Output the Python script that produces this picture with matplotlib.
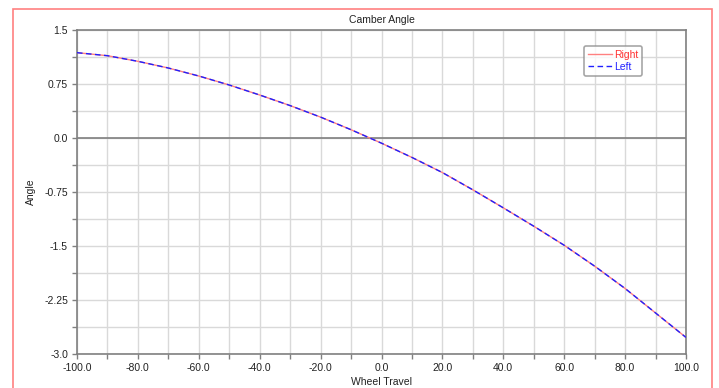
import matplotlib.pyplot as plt
from matplotlib.patches import Rectangle
from matplotlib.ticker import MultipleLocator, FormatStrFormatter

plt.rcParams["font.family"] = ["Liberation Sans", "DejaVu Sans"]

# Wheel travel vs camber angle
wheel_travel = [-100, -90, -80, -70, -60, -50, -40, -30, -20, -10,
                0, 10, 20, 30, 40, 50, 60, 70, 80, 90, 100]
camber_right = [1.185, 1.143, 1.065, 0.972, 0.861, 0.736, 0.597, 0.45, 0.29, 0.115,
                -0.072, -0.27, -0.48, -0.72, -0.97, -1.225, -1.49, -1.78, -2.09, -2.43, -2.77]
camber_left = list(camber_right)

y_tick_labels = ["-3.0", "-2.25", "-1.5", "-0.75", "0.0", "0.75", "1.5"]

fig = plt.figure(figsize=(7.19, 3.88), dpi=100)

# pink frame around the plot area
fig.patches.append(Rectangle((13 / 719, -0.05), 699 / 719, 1 - 9 / 388 + 0.05,
                             transform=fig.transFigure, fill=False,
                             edgecolor="#ff8080", linewidth=1.2))

ax = fig.add_axes([77 / 719, 1 - 354 / 388, 609 / 719, 324 / 388])

ax.plot(wheel_travel, camber_right, color="#ff8080", linewidth=1.0, label="Right", zorder=3)
ax.plot(wheel_travel, camber_left, color="#2020ff", linewidth=1.0,
        linestyle=(0, (4, 2.5)), label="Left", zorder=4)

ax.axhline(0, color="#808080", linewidth=1.2, zorder=2)

ax.set_xlim(-100, 100)
ax.set_ylim(-3.0, 1.5)

ax.xaxis.set_major_locator(MultipleLocator(20))
ax.xaxis.set_minor_locator(MultipleLocator(10))
ax.xaxis.set_major_formatter(FormatStrFormatter("%.1f"))
ax.set_yticks([float(t) for t in y_tick_labels], y_tick_labels)
ax.yaxis.set_minor_locator(MultipleLocator(0.375))

ax.grid(True, which="both", color="#d9d9d9", linewidth=1.0, zorder=0)
ax.set_axisbelow(True)

ax.tick_params(which="both", direction="out", colors="#808080", labelcolor="#222222",
               labelsize=7.5, length=3.5, width=1.0)
ax.tick_params(axis="x", pad=3)
ax.tick_params(axis="y", pad=3)

for spine in ax.spines.values():
    spine.set_color("#808080")
    spine.set_linewidth(1.2)

ax.set_title("Camber Angle", fontsize=7.5, color="#222222", pad=5)
ax.set_xlabel("Wheel Travel", fontsize=7.5, color="#222222", labelpad=3)
ax.set_ylabel("Angle", fontsize=7.5, color="#222222", labelpad=6)

leg = ax.legend(loc="upper right", bbox_to_anchor=(0.928, 0.951), borderaxespad=0,
                fontsize=7.5, frameon=True, fancybox=True, edgecolor="#909090",
                handlelength=2.3, handletextpad=0.2, borderpad=0.4, labelspacing=0.2)
leg.get_frame().set_linewidth(1.2)
for text, color in zip(leg.get_texts(), ["#ff3030", "#2020ff"]):
    text.set_color(color)

fig.savefig("out.png", dpi=100)
